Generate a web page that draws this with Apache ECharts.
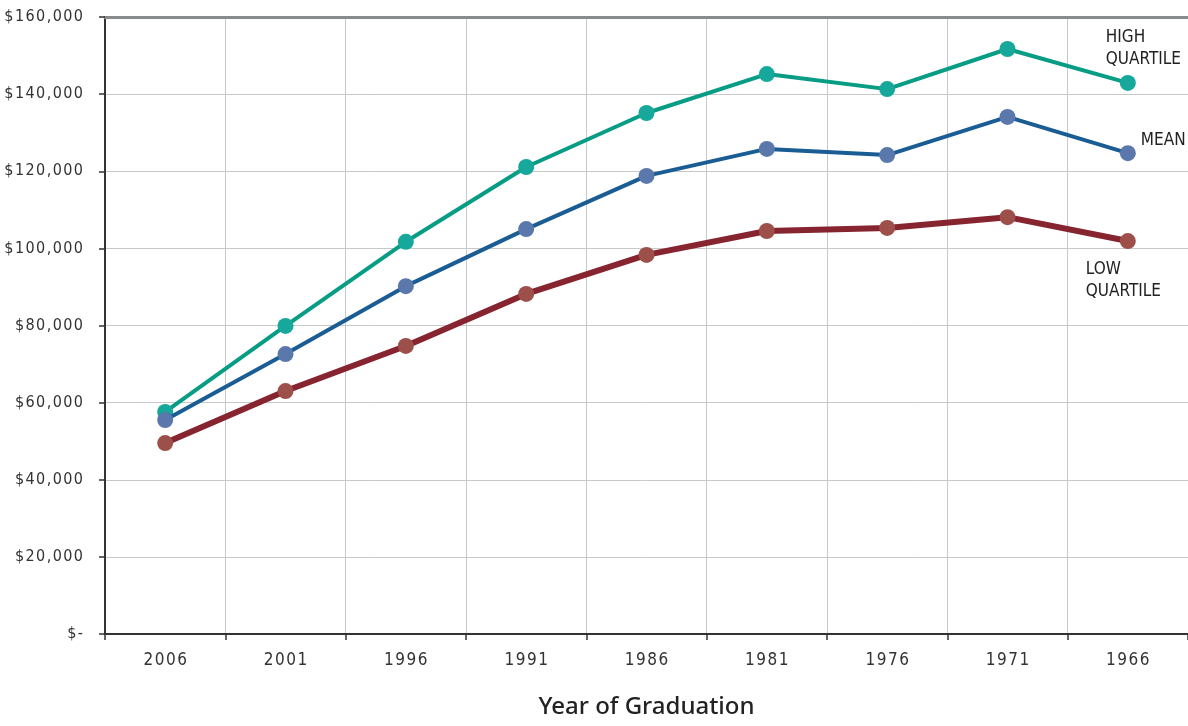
<!DOCTYPE html>
<html>
<head>
<meta charset="utf-8">
<script src="https://cdn.jsdelivr.net/npm/echarts@6/dist/echarts.min.js"></script>
<style>
  html, body { margin: 0; padding: 0; background: #fff; }
  #chart { width: 1188px; height: 726px; }
</style>
</head>
<body>
<div id="chart"></div>
<script>
// Graduation years, newest first
const years = ['2006', '2001', '1996', '1991', '1986', '1981', '1976', '1971', '1966'];

// Salary by year of graduation
const highQuartile = [57600, 79900, 101700, 121100, 135100, 145200, 141300, 151700, 142900];
const meanSalary   = [55500, 72600, 90200, 105000, 118800, 125800, 124200, 134100, 124700];
const lowQuartile  = [49500, 63000, 74700, 88200, 98300, 104500, 105300, 108100, 101900];

const seriesNames = ['HIGH\nQUARTILE', 'MEAN', 'LOW\nQUARTILE'];

const labelFont = '"Liberation Sans Narrow", "DejaVu Sans Condensed", "Roboto", sans-serif';
const spaced = s => s.split('').join('\u200A');

function withEndLabel(values, name, labelOpts) {
  return values.map((v, i) => i === values.length - 1
    ? { value: v, label: Object.assign({
        show: true, formatter: name, color: '#222', fontFamily: labelFont,
        fontSize: 17, lineHeight: 22, align: 'left'
      }, labelOpts) }
    : v);
}

const chart = echarts.init(document.getElementById('chart'));
chart.setOption({
  animation: false,
  backgroundColor: '#fff',
  grid: { left: 105, right: 0, top: 17, bottom: 92, outerBoundsMode: 'none', containLabel: false },
  xAxis: [{
    type: 'category',
    data: years,
    boundaryGap: true,
    axisLine: { lineStyle: { color: '#333', width: 2 } },
    axisTick: { show: true, length: 6, lineStyle: { color: '#333', width: 1.5 } },
    axisLabel: {
      color: '#333', fontFamily: labelFont, fontSize: 17, margin: 18,
      formatter: v => spaced(v)
    },
    splitLine: { show: true, lineStyle: { color: '#c8c8c8', width: 1 } },
    name: 'Year of Graduation',
    nameLocation: 'middle',
    nameGap: 61,
    nameTextStyle: { color: '#222', fontSize: 24, fontWeight: 500, fontFamily: '"Noto Sans", sans-serif' }
  }, {
    type: 'category',
    data: years,
    position: 'top',
    axisLine: { show: true, lineStyle: { color: '#888b8e', width: 3 } },
    axisTick: { show: false },
    axisLabel: { show: false },
    splitLine: { show: false }
  }],
  yAxis: {
    type: 'value',
    min: 0,
    max: 160000,
    interval: 20000,
    axisLine: { show: true, lineStyle: { color: '#333', width: 2 } },
    axisTick: { show: true, length: 6, lineStyle: { color: '#333', width: 1.5 } },
    axisLabel: {
      color: '#333', fontFamily: labelFont, fontSize: 16, margin: 22,
      formatter: v => v === 0 ? spaced('$-') : spaced('$' + v.toLocaleString('en-US'))
    },
    splitLine: { show: true, lineStyle: { color: '#c8c8c8', width: 1 } }
  },
  series: [{
    name: 'High quartile',
    type: 'line',
    data: withEndLabel(highQuartile, seriesNames[0], { position: 'top', distance: 4, offset: [-22, 0] }),
    symbol: 'circle', symbolSize: 16,
    lineStyle: { color: '#079c84', width: 4 },
    itemStyle: { color: '#16a89a' },
    z: 3
  }, {
    name: 'Mean',
    type: 'line',
    data: withEndLabel(meanSalary, seriesNames[1], { position: 'right', distance: 5, offset: [0, -13] }),
    symbol: 'circle', symbolSize: 16,
    lineStyle: { color: '#1a5c94', width: 4 },
    itemStyle: { color: '#5a78ab' },
    z: 4
  }, {
    name: 'Low quartile',
    type: 'line',
    data: withEndLabel(lowQuartile, seriesNames[2], { position: 'bottom', distance: 5, offset: [-42, 5], verticalAlign: 'top' }),
    symbol: 'circle', symbolSize: 16,
    lineStyle: { color: '#862430', width: 6 },
    itemStyle: { color: '#9d4f4a' },
    z: 2
  }]
});
</script>
</body>
</html>
